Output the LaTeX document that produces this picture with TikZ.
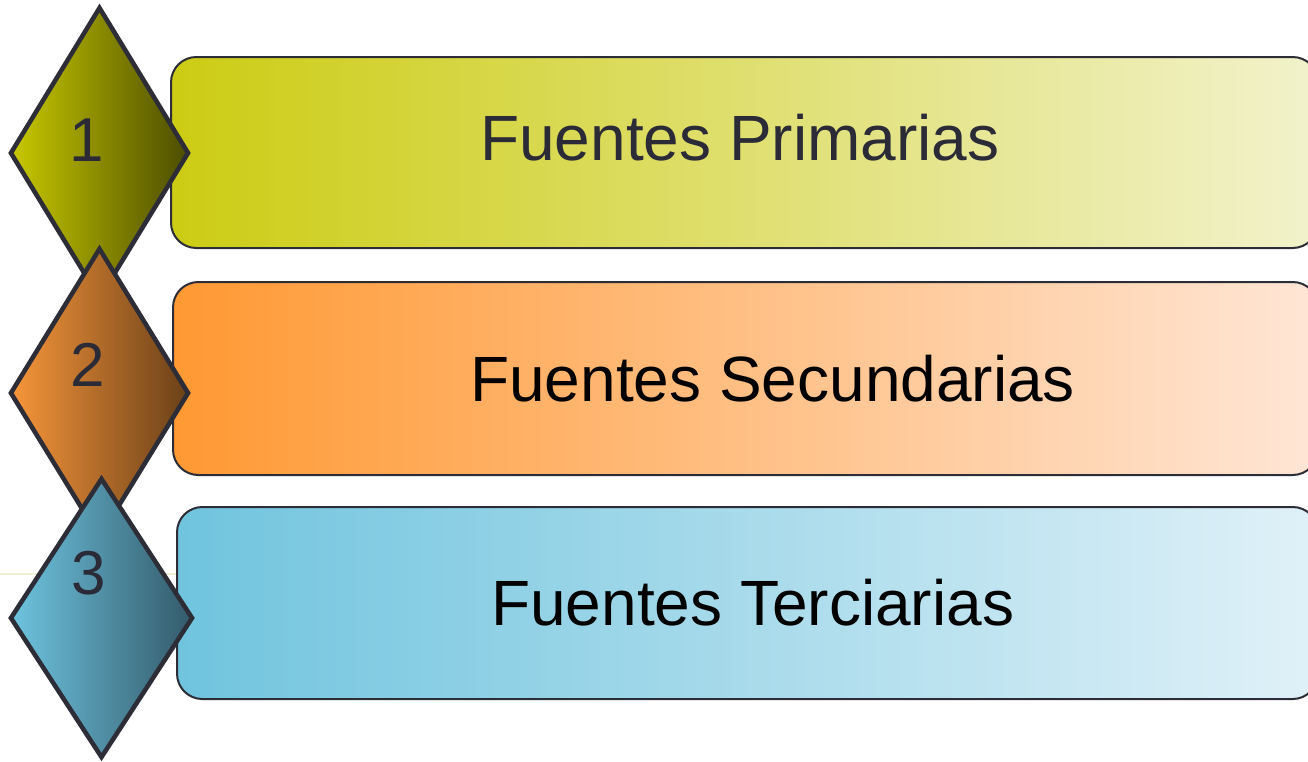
\documentclass[tikz,border=0pt]{standalone}
\usepackage{fontspec}
\setmainfont{Liberation Sans}
\usetikzlibrary{shapes.geometric}
\definecolor{outl}{HTML}{2D2D38}
\definecolor{numc}{HTML}{2B2B38}
\definecolor{faint}{HTML}{EFEFD6}
\definecolor{ra1}{HTML}{CCCC14}\definecolor{rb1}{HTML}{F2F2CC}
\definecolor{ra2}{HTML}{FF9933}\definecolor{rb2}{HTML}{FFE6D6}
\definecolor{ra3}{HTML}{70C4DE}\definecolor{rb3}{HTML}{E0F1F8}
\definecolor{da1}{HTML}{C8C800}\definecolor{dm1}{HTML}{ABAB00}\definecolor{db1}{HTML}{4C4D00}
\definecolor{da2}{HTML}{F7963A}\definecolor{dm2}{HTML}{D07A2C}\definecolor{db2}{HTML}{6A4018}
\definecolor{da3}{HTML}{6EC4E0}\definecolor{dm3}{HTML}{5AA3B9}\definecolor{db3}{HTML}{335A6A}
\tikzset{
  bar/.style={draw=outl, line width=1.5pt, rounded corners=19pt, inner sep=0pt},
  gem/.style={diamond, draw=outl, line width=3.4pt, inner sep=0pt, line join=miter},
  num/.style={anchor=base, inner sep=0pt, text=numc, font=\fontsize{46.5pt}{50pt}\selectfont},
  lbl/.style={anchor=base west, inner sep=0pt, font=\fontsize{48pt}{52pt}\selectfont}
}
\begin{document}
\begin{tikzpicture}[x=0.75pt, y=-0.75pt]
\clip (0,0) rectangle (1308,761);
\fill[white] (0,0) rectangle (1308,761);
\coordinate (fl0) at (0,574);
\coordinate (fl1) at (178,574);
\draw[faint, line width=2pt] (fl0) -- (fl1);
% bars
\node[bar, left color=ra1, right color=rb1, minimum width=860.25pt, minimum height=143.25pt] (r1) at (744.5,152.5) {};
\node[bar, left color=ra2, right color=rb2, minimum width=858.75pt, minimum height=144.75pt] (r2) at (745.5,378.5) {};
\node[bar, left color=ra3, right color=rb3, minimum width=855.75pt, minimum height=144pt] (r3) at (747.5,603) {};
% diamonds
\node[gem, left color=da1, middle color=dm1, right color=db1, minimum width=134.25pt, minimum height=219pt] (d1) at (99.5,153) {};
\node[gem, left color=da2, middle color=dm2, right color=db2, minimum width=134.25pt, minimum height=217.5pt] (d2) at (99.5,393) {};
\node[gem, left color=da3, middle color=dm3, right color=db3, minimum width=137.25pt, minimum height=210pt] (d3) at (101.5,618) {};
% numbers
\node[num] (n1) at (87,161) {1};
\node[num] (n2) at (88,386) {2};
\node[num] (n3) at (89,594) {3};
% labels
\node[lbl, text=numc] (t1) at (480,160) {Fuentes Primarias};
\node[lbl, text=black] (t2) at (470,401) {Fuentes Secundarias};
\node[lbl, text=black] (t3) at (491,625) {Fuentes Terciarias};
\end{tikzpicture}
\end{document}
